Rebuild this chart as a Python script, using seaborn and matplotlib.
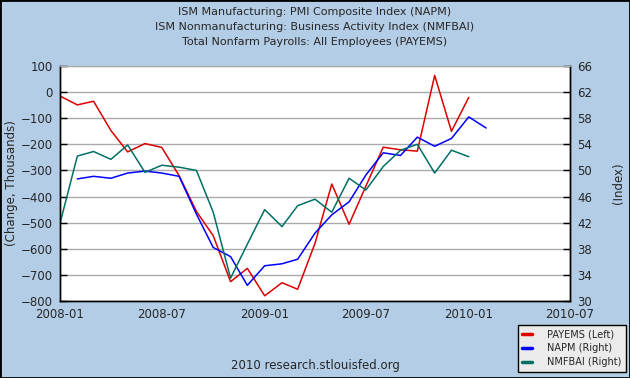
import numpy as np
import pandas as pd
import seaborn as sns
import matplotlib.pyplot as plt
import matplotlib.dates as mdates
from matplotlib.patches import Rectangle

# Datos (mensual, 2008-01 .. 2010-02)
meses = pd.date_range('2008-01-01', periods=26, freq='MS')
payems = [-15, -49, -35, -147, -229, -197, -212, -320, -457, -550, -726, -675, -780,
          -730, -755, -579, -352, -506, -360, -211, -221, -226, 64, -150, -20, np.nan]
napm = [np.nan, 48.7, 49.1, 48.8, 49.6, 49.9, 49.6, 49.1, 43.3, 38.2, 36.8, 32.4, 35.4,
        35.7, 36.4, 40.4, 43.2, 45.2, 49.3, 52.7, 52.3, 55.1, 53.7, 54.9, 58.2, 56.5]
nmfbai = [41.9, 52.2, 52.9, 51.7, 53.9, 49.7, 50.8, 50.5, 50.0, 43.6, 33.5, 38.7, 44.0,
          41.4, 44.6, 45.6, 43.6, 48.8, 47.0, 50.6, 53.1, 54.0, 49.6, 53.1, 52.1, np.nan]

titulos = ['ISM Manufacturing: PMI Composite Index (NAPM)',
           'ISM Nonmanufacturing: Business Activity Index (NMFBAI)',
           'Total Nonfarm Payrolls: All Employees (PAYEMS)']
etiquetas = ['PAYEMS (Left)', 'NAPM (Right)', 'NMFBAI (Right)']
colores = ['#DD0000', '#0000FF', '#006F66']

df = pd.DataFrame({'fecha': meses, 'PAYEMS': payems, 'NAPM': napm, 'NMFBAI': nmfbai})

sns.set_style("white")
plt.rcParams['font.family'] = ['DejaVu Sans']

fondo = '#B4CDE6'
fig = plt.figure(figsize=(6.3, 3.78), dpi=100, facecolor=fondo)
ax = fig.add_axes([60 / 630, 1 - 301 / 378, 510 / 630, 235 / 378])
ax2 = ax.twinx()

sns.lineplot(data=df, x='fecha', y='PAYEMS', ax=ax, color=colores[0], lw=1.1, label=etiquetas[0], legend=False)
sns.lineplot(data=df, x='fecha', y='NAPM', ax=ax2, color=colores[1], lw=1.1, label=etiquetas[1], legend=False)
sns.lineplot(data=df, x='fecha', y='NMFBAI', ax=ax2, color=colores[2], lw=1.1, label=etiquetas[2], legend=False)

ax.set_xlim(pd.Timestamp('2008-01-01'), pd.Timestamp('2010-07-01'))
ax.set_ylim(-800, 100)
ax2.set_ylim(30, 66)
ax.set_yticks(range(-800, 101, 100))
ax2.set_yticks(range(30, 67, 4))
ax.set_xticks(pd.date_range('2008-01-01', '2010-07-01', freq='6MS'))
ax.xaxis.set_major_formatter(mdates.DateFormatter('%Y-%m'))

ax.set_facecolor('white')
ax.yaxis.grid(True, color='#AAAAAA', lw=1)
ax.xaxis.grid(False)
ax2.grid(False)
ax.set_xlabel('')
ax.set_ylabel('')
ax2.set_ylabel('')

for a in (ax, ax2):
    a.spines['top'].set_color('#AAAAAA')
    for s in ('left', 'right', 'bottom'):
        a.spines[s].set_color('black')
        a.spines[s].set_linewidth(1)
    a.tick_params(direction='in', length=5, width=1, color='black', labelsize=8.5, pad=5)

fig.text(0.5, 1 - 12 / 378, titulos[0], ha='center', va='center', fontsize=8)
fig.text(0.5, 1 - 27 / 378, titulos[1], ha='center', va='center', fontsize=8)
fig.text(0.5, 1 - 42 / 378, titulos[2], ha='center', va='center', fontsize=8)
fig.text(12 / 630, 1 - 183 / 378, '(Change, Thousands)', rotation=90, ha='center', va='center', fontsize=8.5)
fig.text(618 / 630, 1 - 183 / 378, '(Index)', rotation=90, ha='center', va='center', fontsize=8.5)
fig.text(315 / 630, 1 - 366 / 378, '2010 research.stlouisfed.org', ha='center', va='center', fontsize=8.5)

h1, l1 = ax.get_legend_handles_labels()
h2, l2 = ax2.get_legend_handles_labels()
leg = fig.legend(h1 + h2, l1 + l2, loc='lower right', bbox_to_anchor=(626 / 630, 6 / 378),
                 borderaxespad=0, fontsize=7, handlelength=1, handletextpad=1.5,
                 labelspacing=0.4, fancybox=False, framealpha=1, facecolor='#EBEBEB',
                 edgecolor='black', borderpad=0.5)
for linea in leg.get_lines():
    linea.set_linewidth(2.5)

fig.patches.append(Rectangle((0, 0), 1, 1, transform=fig.transFigure, fill=False,
                             edgecolor='black', lw=2))

fig.savefig('out.png', dpi=100, facecolor=fondo)
